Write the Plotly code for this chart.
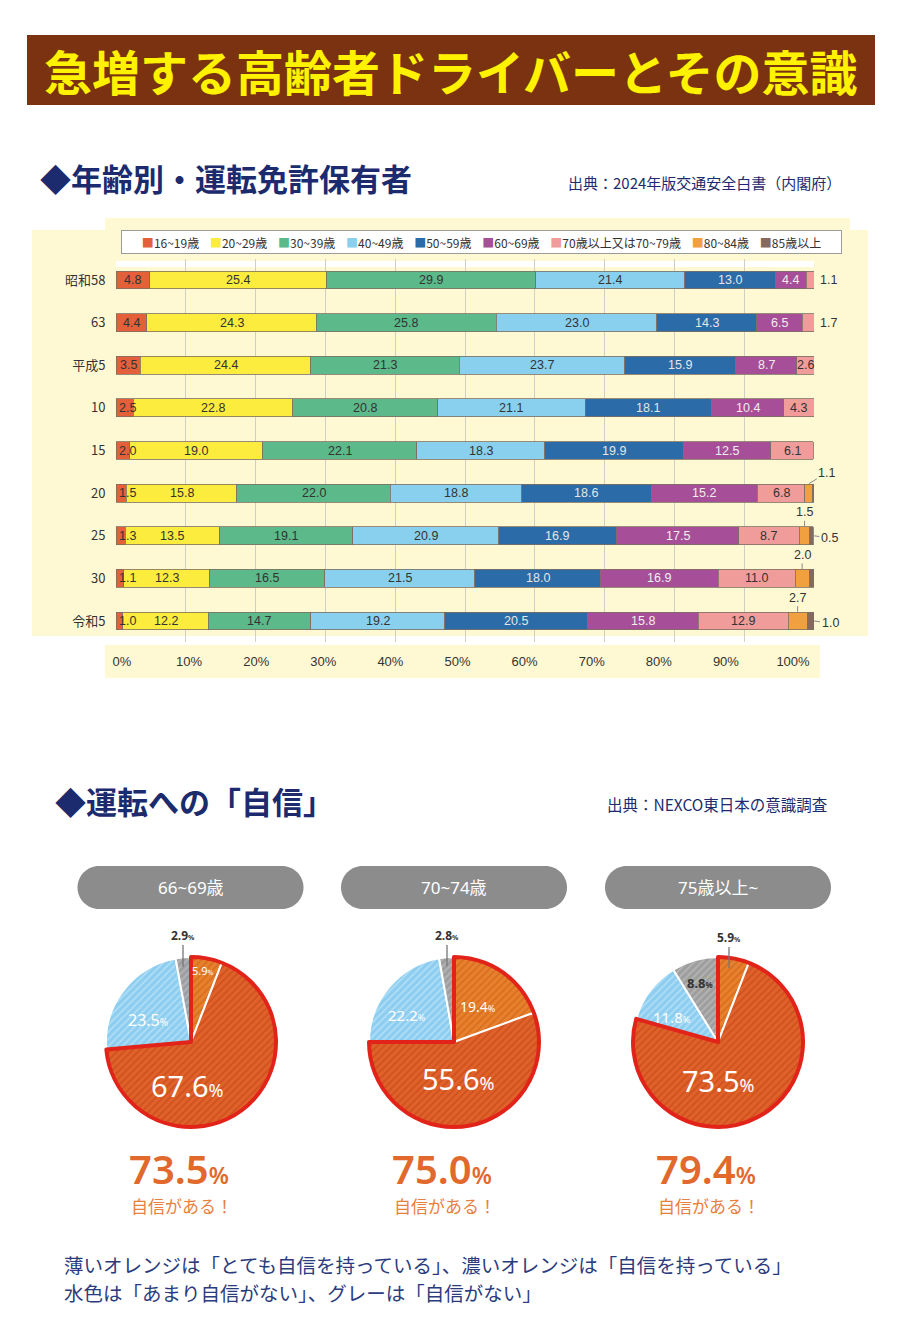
import plotly.graph_objects as go

W, H = 900, 1332
OFF = 8  # page body margin of the browser


def px(x):
    return (x - OFF) / W


def py(y):
    return 1 - (y - OFF) / H


# ---------------- data: license holders by age (%) ----------------
years = ['昭和58', '63', '平成5', '10', '15', '20', '25', '30', '令和5']
age_groups = ['16~19歳', '20~29歳', '30~39歳', '40~49歳', '50~59歳',
              '60~69歳', '70歳以上又は70~79歳', '80~84歳', '85歳以上']
age_16_19 = [4.8, 4.4, 3.5, 2.5, 2.0, 1.5, 1.3, 1.1, 1.0]
age_20_29 = [25.4, 24.3, 24.4, 22.8, 19.0, 15.8, 13.5, 12.3, 12.2]
age_30_39 = [29.9, 25.8, 21.3, 20.8, 22.1, 22.0, 19.1, 16.5, 14.7]
age_40_49 = [21.4, 23.0, 23.7, 21.1, 18.3, 18.8, 20.9, 21.5, 19.2]
age_50_59 = [13.0, 14.3, 15.9, 18.1, 19.9, 18.6, 16.9, 18.0, 20.5]
age_60_69 = [4.4, 6.5, 8.7, 10.4, 12.5, 15.2, 17.5, 16.9, 15.8]
age_70_79 = [1.1, 1.7, 2.6, 4.3, 6.1, 6.8, 8.7, 11.0, 12.9]
age_80_84 = [None, None, None, None, None, 1.1, 1.5, 2.0, 2.7]
age_85_up = [None, None, None, None, None, 0.3, 0.5, 0.7, 1.0]
x_ticks = [0, 10, 20, 30, 40, 50, 60, 70, 80, 90, 100]
x_tick_labels = ['0%', '10%', '20%', '30%', '40%', '50%', '60%', '70%', '80%', '90%', '100%']

# ---------------- data: driving confidence (%) ----------------
pie_groups = ['66~69歳', '70~74歳', '75歳以上~']
conf_levels = ['とても自信を持っている', '自信を持っている', 'あまり自信がない', '自信がない']
very_confident = [5.9, 19.4, 5.9]
confident = [67.6, 55.6, 73.5]
not_very = [23.5, 22.2, 11.8]
not_confident = [2.9, 2.8, 8.8]
confident_total = [73.5, 75.0, 79.4]

# ---------------- styles ----------------
CJK = '"Noto Sans CJK JP", "Noto Sans", sans-serif'
NARROW = '"Liberation Sans Narrow", "Liberation Sans", "Noto Sans CJK JP", sans-serif'
ROUND = '"Noto Sans", "Noto Sans CJK JP", sans-serif'
NAVY = '#1C2B6E'
YELLOW_BG = '#FFF9D3'
bar_colors = ['#E4603A', '#FBEC3E', '#5CB98A', '#88D0EE', '#2A6BA8',
              '#A64F98', '#EF9C9A', '#F1A03F', '#85695F']
bar_text_colors = ['#333333', '#333333', '#333333', '#333333', '#E6E6E6',
                   '#EEEEEE', '#333333', '#333333', '#333333']
pie_colors = ['#E8812E', '#E1612B', '#8CCDF0', '#9E9E9E']
pie_stripe = ['#D86F20', '#CE521D', '#B0DEF6', '#B4B4B4']
ORANGE_TXT = '#E0692B'

series = [age_16_19, age_20_29, age_30_39, age_40_49, age_50_59,
          age_60_69, age_70_79, age_80_84, age_85_up]

fig = go.Figure()

for j, vals in enumerate(series):
    fig.add_trace(go.Bar(
        x=vals, y=years, orientation='h', name=age_groups[j],
        marker=dict(color=bar_colors[j], line=dict(color='#7d6f62', width=0.8)),
        hoverinfo='skip', xaxis='x', yaxis='y', showlegend=False))

# invisible trace so that the percentage strip axis is drawn
fig.add_trace(go.Scatter(x=[0, 100], y=[0, 0], mode='markers', marker=dict(opacity=0),
                         xaxis='x2', yaxis='y2', hoverinfo='skip', showlegend=False))

annotations = []


def note(x, y, text, size, color, family=CJK, xanchor='center', **kw):
    d = dict(xref='paper', yref='paper', x=px(x), y=py(y), text=text, showarrow=False,
             xanchor=xanchor, yanchor='middle',
             font=dict(family=family, size=size, color=color))
    d.update(kw)
    return d


# bar value labels
for i in range(len(years)):
    s = 0.0
    for j, vals in enumerate(series):
        v = vals[i]
        if v is None:
            continue
        txt = f'{v:.1f}'
        base = dict(xref='x', yref='y', text=txt, showarrow=False, yanchor='middle',
                    font=dict(family=NARROW, size=12.5, color=bar_text_colors[j]))
        if j == 0 and v < 2.6:
            a = dict(base, x=0, y=i, xanchor='left', xshift=1)
        elif j == 6 and v < 2.0:
            a = dict(base, x=100, y=i, xanchor='left', xshift=4)
        elif j == 7:
            if v < 1.2:
                a = dict(base, x=s + v / 2, y=i - 0.22, showarrow=True, arrowhead=0,
                         arrowwidth=1, arrowcolor='#888', ax=18, ay=-11)
            else:
                a = dict(base, x=s + v / 2, y=i - 0.22, showarrow=True, arrowhead=0,
                         arrowwidth=1, arrowcolor='#888', ax=0, ay=-14)
        elif j == 8:
            a = dict(base, x=s + v, y=i, showarrow=True, arrowhead=0, arrowwidth=1,
                     arrowcolor='#888', ax=16, ay=2)
        else:
            a = dict(base, x=s + v / 2, y=i, xanchor='center')
        annotations.append(a)
        s += v

# legend row (coloured squares + names)
GAP = '\u00a0\u00a0\u00a0\u00a0'
legend_txt = GAP.join(
    f"<span style='color:{c}'>■</span>{g}" for c, g in zip(bar_colors, age_groups))
annotations.append(note(481.5, 242, legend_txt, 12, '#333',
                        bgcolor='white', bordercolor='#9a9a9a', borderwidth=1,
                        width=715, height=18, borderpad=2))

# titles
annotations += [
    note(451, 70, '<b>急増する高齢者ドライバーとその意識</b>', 48, '#FFF200'),
    note(38, 178, '<b>◆年齢別・運転免許保有者</b>', 31, NAVY, xanchor='left'),
    note(843, 183, '出典：2024年版交通安全白書（内閣府）', 15, NAVY, xanchor='right'),
    note(53, 800, '<b>◆運転への「自信」</b>', 31, NAVY, xanchor='left'),
    note(829, 804, '出典：NEXCO東日本の意識調査', 15.5, NAVY, xanchor='right'),
    note(62, 1264, '薄いオレンジは「とても自信を持っている」、濃いオレンジは「自信を持っている」',
         19.5, '#2B3C7E', xanchor='left'),
    note(62, 1292, '水色は「あまり自信がない」、グレーは「自信がない」',
         19.5, '#2B3C7E', xanchor='left'),
]

# ---------------- shapes ----------------


def rect(x0, y0, x1, y1, color):
    return dict(type='rect', xref='paper', yref='paper', x0=px(x0), x1=px(x1),
                y0=py(y1), y1=py(y0), fillcolor=color, line=dict(width=0), layer='below')


shapes = [
    rect(27, 35, 875, 105, '#7A3210'),
    rect(32, 230, 868, 636, YELLOW_BG),
    rect(105, 218, 850, 262, YELLOW_BG),
    rect(105, 645, 820, 678, YELLOW_BG),
    rect(116, 261, 814, 267, 'white'),
]


def pill_path(x0, y0, x1, y1):
    r = (y1 - y0) / 2
    k = 0.5523 * r
    m = (y0 + y1) / 2

    def p(x, y):
        return f'{px(x):.5f},{py(y):.5f}'
    return (f'M {p(x0 + r, y0)} L {p(x1 - r, y0)} '
            f'C {p(x1 - r + k, y0)} {p(x1, m - k)} {p(x1, m)} '
            f'C {p(x1, m + k)} {p(x1 - r + k, y1)} {p(x1 - r, y1)} '
            f'L {p(x0 + r, y1)} '
            f'C {p(x0 + r - k, y1)} {p(x0, m + k)} {p(x0, m)} '
            f'C {p(x0, m - k)} {p(x0 + r - k, y0)} {p(x0 + r, y0)} Z')


# ---------------- pies ----------------
pie_cx = [191, 454, 718]
pie_cy = 1042
pie_r = 85
pill_cx = [190.5, 454, 718]

# label layout per pie: (dx, dy, font size, colour, leader) for each slice
pie_label_layout = [
    [(12, -72, 11, 'white', None), (-4, 43, 29, 'white', None),
     (-43, -22, 16, 'white', None), (-8, -107, 12, '#333', 32)],
    [(24, -36, 14, 'white', None), (4, 36, 29, 'white', None),
     (-47, -27, 15, 'white', None), (-7, -107, 12, '#333', 31)],
    [(11, -105, 12, '#333', 31), (0, 38, 29, 'white', None),
     (-46, -25, 15, 'white', None), (-18, -59, 13, '#333', None)],
]

for k in range(3):
    cx = pie_cx[k]
    dom = dict(x=[px(cx - pie_r), px(cx + pie_r)], y=[py(pie_cy + pie_r), py(pie_cy - pie_r)])
    vals = [very_confident[k], confident[k], not_very[k], not_confident[k]]
    fig.add_trace(go.Pie(
        values=vals, labels=conf_levels, sort=False, direction='clockwise', rotation=0,
        marker=dict(colors=pie_colors, line=dict(color='white', width=2),
                    pattern=dict(shape='/', bgcolor=pie_colors, fgcolor=pie_stripe,
                                 size=5, solidity=0.35)),
        textinfo='none', hoverinfo='skip', domain=dom, showlegend=False))
    conf_sum = very_confident[k] + confident[k]
    rest_sum = not_very[k] + not_confident[k]
    fig.add_trace(go.Pie(
        values=[conf_sum, rest_sum], labels=['自信がある', 'その他'], sort=False,
        direction='clockwise', rotation=0,
        marker=dict(colors=['rgba(0,0,0,0)', 'rgba(0,0,0,0)'],
                    line=dict(color=['#E2231A', 'rgba(0,0,0,0)'], width=[4, 0])),
        textinfo='none', hoverinfo='skip', domain=dom, showlegend=False))

    for v, (dx, dy, fs, col, lead) in zip(vals, pie_label_layout[k]):
        small = max(7, round(fs * 0.62))
        txt = f"{v:.1f}<span style='font-size:{small}px'>%</span>"
        if col == '#333':
            txt = f'<b>{txt}</b>'
        if lead:
            annotations.append(dict(
                xref='paper', yref='paper', x=px(cx + dx), y=py(pie_cy + dy + lead),
                text=txt, showarrow=True, arrowhead=0, arrowwidth=1.3, arrowcolor='#777',
                ax=0, ay=-lead, font=dict(family=ROUND, size=fs, color=col)))
        else:
            annotations.append(note(cx + dx, pie_cy + dy, txt, fs, col, family=ROUND))

    # group pill
    shapes.append(dict(type='path', xref='paper', yref='paper',
                       path=pill_path(pill_cx[k] - 113, 866, pill_cx[k] + 113, 909),
                       fillcolor='#8C8C8C', line=dict(width=0), layer='below'))
    annotations.append(note(pill_cx[k], 887, pie_groups[k], 17, 'white', family=ROUND))
    # total confident
    tot = note(cx - 12, 1168, f"{confident_total[k]:.1f}<span style='font-size:23px'>%</span>",
               40, ORANGE_TXT, family=ROUND)
    tot['font']['weight'] = 600
    annotations.append(tot)
    annotations.append(note(cx - 9, 1205, '自信がある！', 17, '#E8813F'))

fig.update_layout(
    template='none',
    width=W, height=H, margin=dict(l=0, r=0, t=0, b=0, pad=0, autoexpand=False),
    paper_bgcolor='white', plot_bgcolor='rgba(0,0,0,0)',
    barmode='stack', bargap=0.58, showlegend=False,
    font=dict(family=CJK, color='#333'),
    xaxis=dict(domain=[px(116), px(814)], range=[0, 100], tickvals=x_ticks,
               showticklabels=False, showgrid=True, gridcolor='#cfcfc6', gridwidth=1,
               zeroline=False, showline=False, ticks='', fixedrange=True, anchor='y',
               automargin=False),
    yaxis=dict(domain=[py(642.3), py(258.7)], type='category', categoryarray=years,
               categoryorder='array', range=[8.5, -0.5], showgrid=False, zeroline=False,
               ticks='outside', ticklen=7, tickcolor='rgba(0,0,0,0)',
               tickfont=dict(family=CJK, size=13, color='#333'), fixedrange=True, anchor='x',
               automargin=False),
    xaxis2=dict(domain=[px(122), px(793)], range=[0, 100], tickvals=x_ticks,
                ticktext=x_tick_labels, tickfont=dict(family=NARROW, size=13, color='#333'),
                showgrid=False, zeroline=False, showline=False, ticks='', anchor='y2',
                fixedrange=True, automargin=False),
    yaxis2=dict(domain=[py(652), py(640)], range=[0, 1], visible=False, fixedrange=True,
                anchor='x2', automargin=False),
    shapes=shapes, annotations=annotations,
)

fig.write_html('out.html')
